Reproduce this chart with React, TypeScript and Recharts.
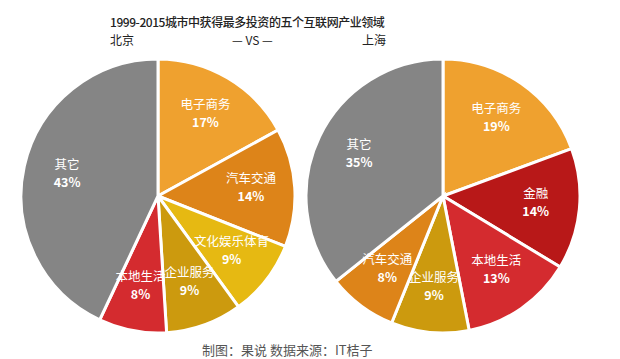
import { PieChart, Pie, Cell } from 'recharts';

const title = '1999-2015城市中获得最多投资的五个互联网产业领域';
const footer = '制图：果说  数据来源：IT桔子';

const bjNames = ['电子商务', '汽车交通', '文化娱乐体育', '企业服务', '本地生活', '其它'];
const bjValues = [17, 14, 9, 9, 8, 43];
const bjColours = ['#EFA12F', '#DD8419', '#E6B912', '#CC9A0E', '#D42B2F', '#858585'];

const shNames = ['电子商务', '金融', '本地生活', '企业服务', '汽车交通', '其它'];
const shValues = [19, 14, 13, 9, 8, 35];
const shColours = ['#EFA12F', '#B81818', '#D42B2F', '#CC9A0E', '#DD8419', '#858585'];

const bjData = bjNames.map((name, i) => ({ name, value: bjValues[i] }));
const shData = shNames.map((name, i) => ({ name, value: shValues[i] }));

const RAD = Math.PI / 180;
const font = '"Noto Sans CJK SC", "Noto Sans", sans-serif';

// two-line label (name + percent) sitting inside the slice
function SliceLabel(props: any) {
  const { cx, cy, midAngle, outerRadius, name, value } = props;
  const r = outerRadius * 0.68;
  const x = cx + r * Math.cos(-midAngle * RAD);
  const y = cy + r * Math.sin(-midAngle * RAD);
  return (
    <g>
      <text x={x} y={y - 7} fill="#fff" textAnchor="middle" fontSize={12.5} fontFamily={font}>
        {name}
      </text>
      <text x={x} y={y + 11} fill="#fff" textAnchor="middle" fontSize={12.5} fontWeight="bold" fontFamily={font}>
        {value}%
      </text>
    </g>
  );
}

const textStyle = {
  position: 'absolute' as const,
  fontFamily: font,
  color: '#222',
  whiteSpace: 'nowrap' as const,
  lineHeight: '14px',
};

export default function App() {
  return (
    <div style={{ position: 'absolute', left: 0, top: 0, width: 620, height: 359, background: '#fff', overflow: 'hidden' }}>
      <div style={{ ...textStyle, left: 110, top: 15, fontSize: 12, letterSpacing: -0.45, fontWeight: 500 }}>{title}</div>
      <div style={{ ...textStyle, left: 110, top: 33, fontSize: 12 }}>北京</div>
      <div style={{ ...textStyle, left: 232, top: 33, fontSize: 12 }}>— VS —</div>
      <div style={{ ...textStyle, left: 362, top: 33, fontSize: 12 }}>上海</div>
      <div style={{ ...textStyle, left: 202, top: 343, fontSize: 13, color: '#555' }}>{footer}</div>
      <div style={{ position: 'absolute', left: 0, top: 0 }}>
        <PieChart width={620} height={359}>
          <Pie
            data={bjData}
            dataKey="value"
            nameKey="name"
            cx={153}
            cy={191}
            outerRadius={137}
            startAngle={90}
            endAngle={-270}
            stroke="#fff"
            strokeWidth={3}
            label={SliceLabel}
            labelLine={false}
            isAnimationActive={false}
          >
            {bjData.map((d, i) => <Cell key={d.name} fill={bjColours[i]} />)}
          </Pie>
          <Pie
            data={shData}
            dataKey="value"
            nameKey="name"
            cx={438}
            cy={191}
            outerRadius={137}
            startAngle={90}
            endAngle={-270}
            stroke="#fff"
            strokeWidth={3}
            label={SliceLabel}
            labelLine={false}
            isAnimationActive={false}
          >
            {shData.map((d, i) => <Cell key={d.name} fill={shColours[i]} />)}
          </Pie>
        </PieChart>
      </div>
    </div>
  );
}
